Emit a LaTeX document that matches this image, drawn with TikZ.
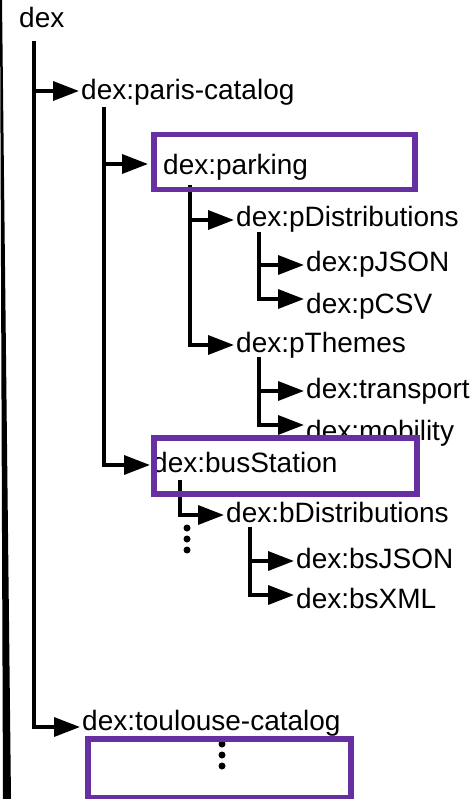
\documentclass[tikz,border=0pt]{standalone}
\usepackage{fontspec}
\setmainfont{Liberation Sans}
\usepackage{xcolor}
\usetikzlibrary{arrows.meta, positioning}
\definecolor{hlpurple}{RGB}{102,48,160}

\begin{document}
\begin{tikzpicture}[x=1pt, y=-1pt,
            term/.style={anchor=base west, inner xsep=2pt, inner ysep=0pt, text height=20pt, text depth=6pt, font=\fontsize{28}{30}\selectfont},
            branch/.style={-{Triangle[length=26pt, width=19pt]}, line width=3.5pt, draw=black},
            hlbox/.style={draw=hlpurple, line width=5.5pt, inner sep=0pt, anchor=north west},
            dot/.style={fill=black}
        ]
        \useasboundingbox (0,0) rectangle (475,799);

        % --- scan edge ---
        \fill (0,0) -- (2,0) -- (11,799) -- (3,799) -- cycle;

        % --- Terms ---
        \node[term] (dex) at (17,28) {dex};
        \node[term] (paris) at (79,100) {dex:paris-catalog};
        \node[term] (parking) at (161,175) {dex:parking};
        \node[term] (pdist) at (234,227) {dex:pDistributions};
        \node[term] (pjson) at (304,272) {dex:pJSON};
        \node[term] (pcsv) at (304,313) {dex:pCSV};
        \node[term] (pthemes) at (234,352) {dex:pThemes};
        \node[term] (transport) at (304,398) {dex:transport};
        \node[term] (mobility) at (304,440) {dex:mobility};
        \node[term] (bus) at (150,472) {dex:busStation};
        \node[term] (bdist) at (224,522) {dex:bDistributions};
        \node[term] (bsjson) at (294,568) {dex:bsJSON};
        \node[term] (bsxml) at (294,608) {dex:bsXML};
        \node[term] (toulouse) at (80,730) {dex:toulouse-catalog};

        % --- Trunks ---
        \coordinate (dexT) at (34,41);
        \coordinate (parisT) at (104,107);
        \coordinate (parkT) at (190,185);
        \coordinate (pdistT) at (259,232);
        \coordinate (pthemT) at (259,357);
        \coordinate (busT) at (180,480);
        \coordinate (bdistT) at (250,527);

        % --- Branches ---
        \draw[branch] (dexT) |- ([yshift=2pt]paris.west);
        \draw[branch] (dexT) |- ([yshift=-4pt]toulouse.west);
        \draw[branch, shorten >=13pt] (parisT) |- ([yshift=4pt]parking.west);
        \draw[branch] (parisT) |- (bus.west);
        \draw[branch] (parkT) |- (pdist.west);
        \draw[branch] (parkT) |- (pthemes.west);
        \draw[branch] (pdistT) |- (pjson.west);
        \draw[branch] (pdistT) |- ([yshift=7pt]pcsv.west);
        \draw[branch] (pthemT) |- (transport.west);
        \draw[branch] (pthemT) |- ([yshift=8pt]mobility.west);
        \draw[branch] (busT) |- (bdist.west);
        \draw[branch] (bdistT) |- (bsjson.west);
        \draw[branch] (bdistT) |- ([yshift=6pt]bsxml.west);

        % --- Elided children ---
        \foreach \dy in {0,11,22} {
            \fill[dot] (187,528+\dy) circle (3.5pt);
            \fill[dot] (222,744+\dy) circle (3.5pt);
        }

        % --- Highlight boxes ---
        \node[hlbox, minimum width=261pt, minimum height=55pt] (parkbox) at (151,132) {};
        \node[hlbox, minimum width=263pt, minimum height=56pt] (busbox) at (151,435) {};
        \node[hlbox, minimum width=263pt, minimum height=59pt] (toulbox) at (85,736) {};

    \end{tikzpicture}
\end{document}
